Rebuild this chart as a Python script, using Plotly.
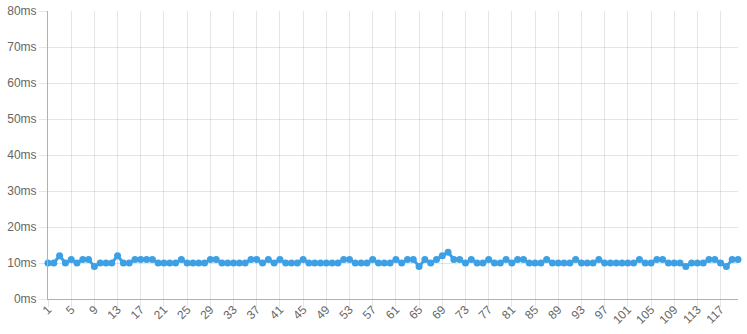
import plotly.graph_objects as go

categories = list(range(1, 121))
values = [
    10, 10, 12, 10, 11, 10, 11, 11, 9, 10,
    10, 10, 12, 10, 10, 11, 11, 11, 11, 10,
    10, 10, 10, 11, 10, 10, 10, 10, 11, 11,
    10, 10, 10, 10, 10, 11, 11, 10, 11, 10,
    11, 10, 10, 10, 11, 10, 10, 10, 10, 10,
    10, 11, 11, 10, 10, 10, 11, 10, 10, 10,
    11, 10, 11, 11, 9, 11, 10, 11, 12, 13,
    11, 11, 10, 11, 10, 10, 11, 10, 10, 11,
    10, 11, 11, 10, 10, 10, 11, 10, 10, 10,
    10, 11, 10, 10, 10, 11, 10, 10, 10, 10,
    10, 10, 11, 10, 10, 11, 11, 10, 10, 10,
    9, 10, 10, 10, 11, 11, 10, 9, 11, 11,
]
tick_vals = list(range(1, 121, 4))
tick_text = [str(v) for v in tick_vals]
y_ticks = list(range(0, 90, 10))
y_text = [f"{v}ms" for v in y_ticks]

blue = "rgb(62,160,228)"
grid = "rgba(0,0,0,0.1)"

fig = go.Figure()
fig.add_trace(go.Scatter(
    x=categories, y=values, mode="lines+markers",
    line=dict(color=blue, width=3),
    marker=dict(color=blue, size=7),
    cliponaxis=False, hoverinfo="skip",
))
fig.update_layout(
    width=747, height=334,
    margin=dict(l=48, r=9, t=11, b=35),
    paper_bgcolor="white", plot_bgcolor="white",
    showlegend=False,
    font=dict(family="Liberation Sans, Arial, sans-serif", size=12, color="#666"),
)
fig.update_xaxes(
    range=[1, 120], tickvals=tick_vals, ticktext=tick_text,
    tickangle=-45, automargin=False, ticklabelstandoff=-9,
    showgrid=True, gridcolor=grid, gridwidth=1,
    ticks="outside", ticklen=7, tickcolor=grid,
    showline=True, linecolor="#b0b0b0", linewidth=1,
    zeroline=False,
)
fig.update_yaxes(
    range=[0, 80], tickvals=y_ticks, ticktext=y_text, automargin=False,
    showgrid=True, gridcolor=grid, gridwidth=1,
    ticks="outside", ticklen=8, tickcolor=grid,
    showline=True, linecolor="#b0b0b0", linewidth=1,
    zeroline=False,
)
fig.write_html("out.html")
